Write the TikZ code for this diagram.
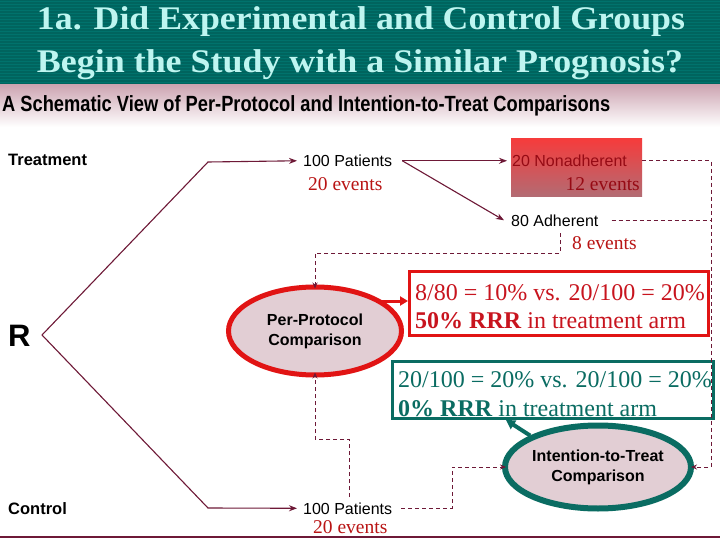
\documentclass[tikz,border=0pt]{standalone}
\usepackage{fontspec}
\usepackage{graphicx}
\setmainfont{Liberation Serif}
\newfontfamily\hv{Liberation Sans}
\usetikzlibrary{shapes.geometric,arrows.meta}
\definecolor{banner}{RGB}{0,100,94}
\definecolor{bannerline}{RGB}{0,114,108}
\definecolor{titlecol}{RGB}{190,245,240}
\definecolor{bandpink}{RGB}{205,165,178}
\definecolor{maroon}{RGB}{110,25,55}
\definecolor{evred}{RGB}{185,20,20}
\definecolor{nared}{RGB}{150,10,20}
\definecolor{boxred}{RGB}{225,20,20}
\definecolor{boxtxt}{RGB}{200,20,30}
\definecolor{tealbox}{RGB}{10,108,98}
\definecolor{ellfill}{RGB}{226,206,212}
\definecolor{natop}{RGB}{245,60,60}
\definecolor{nabot}{RGB}{178,108,116}
\tikzset{
  lbl/.style={font={\hv\fontsize{16}{19}\selectfont}, inner sep=0pt, anchor=base west},
  blbl/.style={font={\hv\bfseries\fontsize{16.5}{19}\selectfont}, inner sep=0pt, anchor=base west},
  ev/.style={font={\fontsize{19.5}{22}\selectfont}, text=evred, inner sep=0pt, anchor=base west},
  bt/.style={inner sep=0pt, anchor=base west, align=left},
  conn/.style={draw=maroon, line width=1.1pt, -{Stealth[length=8pt,width=6pt]}},
  dsh/.style={draw=maroon, line width=0.9pt, dash pattern=on 4pt off 3pt},
  dsharrow/.style={dsh, -{Stealth[length=6pt,width=5pt]}},
  ellbase/.style={ellipse, fill=ellfill, inner sep=0pt, align=center,
     font={\hv\bfseries\fontsize{16}{20}\selectfont}},
  ppell/.style={ellbase, draw=boxred, line width=5pt, minimum width=173pt, minimum height=88pt},
  ittell/.style={ellbase, draw=tealbox, line width=6pt, minimum width=174pt, minimum height=83pt},
  titletext/.style={font={\bfseries\fontsize{33}{40}\selectfont}, text=titlecol, inner sep=0pt, anchor=base},
}
\begin{document}
\begin{tikzpicture}[x=1pt,y=-1pt]
\useasboundingbox (0,0) rectangle (720,540);
\fill[white] (0,0) rectangle (720,540);
% banner
\fill[banner] (0,0) rectangle (720,85);
\foreach \yy in {2,5,...,84} \draw[bannerline, line width=1pt] (0,\yy) -- (720,\yy);
\shade[top color=bandpink, bottom color=white] (0,85) rectangle (720,127);
\node[titletext] (t1) at (361,30) {\resizebox{648pt}{\height}{1a. Did Experimental and Control Groups}};
\node[titletext] (t2) at (360,73) {\resizebox{646pt}{\height}{Begin the Study with a Similar Prognosis?}};
\node[inner sep=0pt, anchor=base west, font={\hv\bfseries\fontsize{22}{24}\selectfont}] (sub) at (2,112)
  {\resizebox{608pt}{\height}{A Schematic View of Per-Protocol and Intention-to-Treat Comparisons}};
% left labels
\node[blbl] (trt) at (8,166) {Treatment};
\node[blbl] (ctl) at (8,514) {Control};
\node[inner sep=0pt, anchor=base west, font={\hv\bfseries\fontsize{31}{34}\selectfont}] (R) at (8,346) {R};
% nonadherent box
\node[minimum width=131pt, minimum height=58pt, inner sep=0pt, top color=natop, bottom color=nabot, draw=none] (nb) at (576.5,168) {};
% text labels
\node[lbl] (tp) at (303,166.5) {100 Patients};
\node[ev] (te) at (308,190.5) {20 events};
\node[lbl, text=nared] (na) at (512,166.5) {20 Nonadherent};
\node[ev, anchor=base east, text=nared] (ne) at (640,190.5) {12 events};
\node[lbl] (ad) at (511,226) {80 Adherent};
\node[ev] (ae) at (572,249.5) {8 events};
\node[lbl] (cp) at (303,514) {100 Patients};
\node[ev] (ce) at (313,533.5) {20 events};
% ellipses
\node[ppell] (pp) at (315,331) {Per-Protocol\\Comparison};
\node[ittell] (itt) at (598,467) {Intention-to-Treat\\Comparison};
% result boxes
\node[draw=boxred, line width=3pt, minimum width=299pt, minimum height=64pt, inner sep=0pt] (rbox) at (559,303.5) {};
\node[bt, text=boxtxt, font={\fontsize{24}{28}\selectfont}] (rt) at (415,328) {8/80 = 10\% vs. 20/100 = 20\%\\\textbf{50\% RRR} in treatment arm};
\node[draw=tealbox, line width=3pt, minimum width=321pt, minimum height=57pt, inner sep=0pt] (tbox) at (553,390) {};
\node[bt, text=tealbox, font={\fontsize{24}{29}\selectfont}] (qt) at (398,416) {20/100 = 20\% vs. 20/100 = 20\%\\\textbf{0\% RRR} in treatment arm};
% coordinates
\coordinate (rv) at (42,335);
\coordinate (tk) at (208,162);
\coordinate (ck) at (208,508);
\coordinate (rx) at (711,300);
\coordinate (d1) at (560,233);
\coordinate (d2) at (560,253);
\coordinate (e1) at (349,497);
\coordinate (e2) at (349,439);
\coordinate (f1) at (452,490);
\coordinate (a1) at (381,301);
% solid connectors
\draw[conn] (rv) -- (tk) -- ([xshift=-6pt]tp.west);
\draw[conn] (rv) -- (ck) -- ([xshift=-6pt]cp.west);
\draw[conn] ([xshift=10pt]tp.east) -- ([xshift=-5pt]na.west);
\draw[conn] ([xshift=10pt]tp.east) -- ([xshift=-7pt]ad.west);
% dashed connectors
\draw[dsharrow, shorten >=-3pt] (na.east -| nb.east) -| (rx) |- (itt.east);
\draw[dsh] ([xshift=13pt]ad.east) -- (ad.east -| rx);
\draw[dsharrow, shorten >=-4pt] (d1) -- (d2) -| (pp.north);
\draw[dsharrow, shorten >=-5pt] (e1) -- (e2) -| (pp.south);
\draw[dsharrow, shorten >=-4pt] ([xshift=9pt]cp.east) -| (f1) |- (itt.west);
% result arrows
\draw[draw=boxred, line width=3pt, -{Triangle[length=8pt,width=9pt]}] (a1) -- (a1 -| rbox.west);
\draw[draw=tealbox, line width=4pt, -{Triangle[length=9pt,width=10pt]}] (itt.north west) -- ([xshift=-47pt]tbox.south);
% bottom rule
\draw[maroon, line width=2pt] (0,537) -- (720,537);
\end{tikzpicture}
\end{document}
